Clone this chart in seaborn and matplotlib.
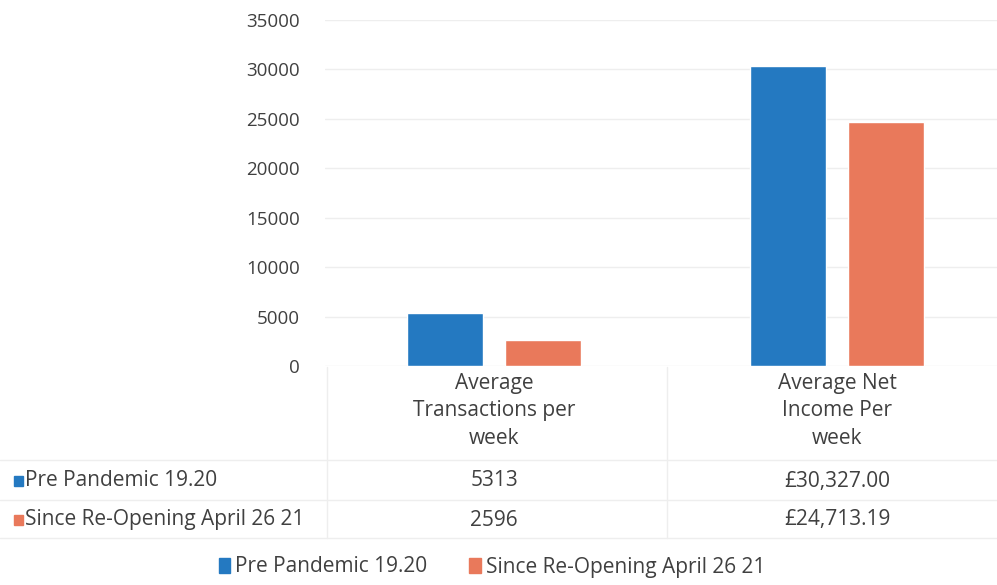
import pandas as pd
import matplotlib.pyplot as plt
import matplotlib.transforms as mtransforms
from matplotlib.patches import Patch
import seaborn as sns

# chart data
categories = ['Average\nTransactions per\nweek', 'Average Net\nIncome Per\nweek']
series = ['Pre Pandemic 19.20', 'Since Re-Opening April 26 21']
pre_pandemic = [5313, 30327.00]
since_reopening = [2596, 24713.19]
table_pre = ['5313', '£30,327.00']
table_since = ['2596', '£24,713.19']
y_ticks = [0, 5000, 10000, 15000, 20000, 25000, 30000, 35000]

colors = ['#2479C1', '#E9795B']
text_color = '#404040'
line_color = '#EEEEEE'

df = pd.DataFrame({
    'category': categories * 2,
    'series': [series[0]] * 2 + [series[1]] * 2,
    'value': pre_pandemic + since_reopening,
})

sns.set_theme(style='white')
plt.rcParams['font.family'] = ['Open Sans', 'DejaVu Sans']

W, H = 997, 585
fig = plt.figure(figsize=(W / 100, H / 100), dpi=100)
ax = fig.add_axes([325 / W, (H - 366) / H, (997 - 325) / W, (366 - 20) / H])

sns.barplot(data=df, x='category', y='value', hue='series', hue_order=series,
            order=categories, palette=colors, width=0.57, gap=0.22,
            saturation=1, ax=ax, legend=False)

ax.set_xlim(-0.493, 1.466)
ax.set_ylim(0, 35000)
ax.set_yticks(y_ticks)
ax.set_yticklabels([str(t) for t in y_ticks], fontsize=13.5, color=text_color)
ax.tick_params(axis='y', length=0, pad=18)
ax.tick_params(axis='x', length=0, pad=5)
ax.set_xticks([0, 1])
ax.set_xticklabels(categories, fontsize=15, color=text_color, linespacing=1.4)
ax.yaxis.grid(True, color=line_color, linewidth=1)
ax.set_axisbelow(True)
ax.set_xlabel('')
ax.set_ylabel('')
for s in ax.spines.values():
    s.set_visible(False)

# data table under the plot
fig_px = mtransforms.Affine2D().scale(1 / W, -1 / H).translate(0, 1) + fig.transFigure
blend = mtransforms.blended_transform_factory(ax.transData, fig_px)

for yl in [460, 500, 538]:
    fig.add_artist(plt.Line2D([0, W], [yl, yl], transform=fig_px, color=line_color, lw=1))
for xl in [327, 667]:
    fig.add_artist(plt.Line2D([xl, xl], [367, 538], transform=fig_px, color=line_color, lw=1))

row_y = [481, 520]
row_vals = [table_pre, table_since]
for i in range(2):
    fig.patches.append(plt.Rectangle((14, row_y[i] - 5), 9, 10, transform=fig_px,
                                     color=colors[i], figure=fig))
    fig.text(25 / W, 1 - row_y[i] / H, series[i], fontsize=15, color=text_color,
             va='center', ha='left')
    for j in range(2):
        ax.text(j, row_y[i], row_vals[i][j], transform=blend, fontsize=15,
                color=text_color, ha='center', va='center')

handles = [Patch(color=c, label=s) for c, s in zip(colors, series)]
fig.legend(handles=handles, loc='center', bbox_to_anchor=(492 / W, 1 - 567 / H),
           ncol=2, frameon=False, fontsize=15, handlelength=0.55, handleheight=0.7,
           handletextpad=0.25, columnspacing=2.0, labelcolor=text_color)

fig.savefig('out.png', dpi=100)
